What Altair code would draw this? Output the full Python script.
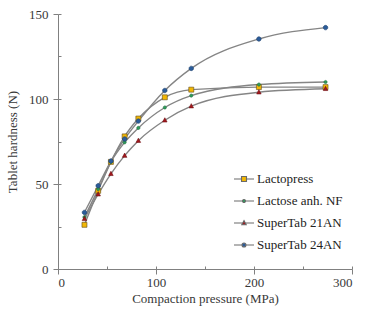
import altair as alt
import pandas as pd

pressure = [27, 41, 54, 68, 82, 109, 136, 205, 273]
lactopress = [26, 46, 63, 78, 88.5, 101, 105.5, 107, 107]
lactose_anh = [30.5, 47, 63, 74.5, 83, 95, 102, 108.5, 110]
supertab_21an = [29.5, 44, 56, 66.7, 75.5, 87.5, 95.8, 104, 106]
supertab_24an = [33.3, 49, 63.5, 76.5, 87, 105, 118, 135.3, 142]

series_names = ["Lactopress", "Lactose anh. NF", "SuperTab 21AN", "SuperTab 24AN"]
series_values = [lactopress, lactose_anh, supertab_21an, supertab_24an]
fill_colors = ["#F2B705", "#2E9B5A", "#A3171C", "#2B5C9A"]
stroke_colors = ["#5e4a1c", "#1f6e3e", "#6e0f12", "#1d3f6b"]
legend_line_colors = ["#6a6a6a", "#6a6a6a", "#6a6a6a", "#6a6a6a"]


def circle_path(r):
    return f"M{r},0A{r},{r},0,1,1,-{r},0A{r},{r},0,1,1,{r},0Z"


# marker outlines (unit = sqrt(size)/2 px)
marker_paths = [
    "M-0.5,-0.5H0.5V0.5H-0.5Z",
    circle_path(0.32),
    "M0,-0.5L0.45,0.35H-0.45Z",
    circle_path(0.45),
]


def seg(a):
    return f"M-1,0H-{a}M{a},0H1"


legend_paths = [
    seg(0.25) + "M-0.25,-0.25H0.25V0.25H-0.25Z",
    seg(0.15) + circle_path(0.15),
    seg(0.15) + "M0,-0.24L0.22,0.18H-0.22Z",
    seg(0.2) + circle_path(0.2),
]

rows = []
for name, vals in zip(series_names, series_values):
    for p, v in zip(pressure, vals):
        rows.append({"series": name, "pressure": p, "hardness": v})
df = pd.DataFrame(rows)

FONT = "Liberation Serif"
FS = 13
AX = "#808080"
TXT = "#383838"

xscale = alt.Scale(domain=[0, 300], nice=False)
yscale = alt.Scale(domain=[0, 150], nice=False)

base = alt.Chart(df)

lines = base.mark_line(color="#858585", strokeWidth=1.4, interpolate="monotone").encode(
    x=alt.X("pressure:Q", scale=xscale,
            axis=alt.Axis(values=[0, 100, 200, 300], title="Compaction pressure (MPa)",
                          tickSize=5, labelPadding=2, titlePadding=3, orient="bottom",
                          labelFont=FONT, titleFont=FONT, labelFontSize=FS, titleFontSize=FS,
                          labelColor=TXT, titleColor=TXT, titleFontWeight="normal")),
    y=alt.Y("hardness:Q", scale=yscale,
            axis=alt.Axis(values=[0, 50, 100, 150], title="Tablet hardness (N)",
                          tickSize=5, labelPadding=5, titlePadding=9, orient="left",
                          labelFont=FONT, titleFont=FONT, labelFontSize=FS, titleFontSize=FS,
                          labelColor=TXT, titleColor=TXT, titleFontWeight="normal")),
    detail="series:N",
)

points = base.mark_point(filled=True, opacity=1, strokeWidth=0.6, size=100).encode(
    x=alt.X("pressure:Q", scale=xscale, axis=None),
    y=alt.Y("hardness:Q", scale=yscale, axis=None),
    fill=alt.Fill("series:N", scale=alt.Scale(domain=series_names, range=fill_colors), legend=None),
    stroke=alt.Stroke("series:N", scale=alt.Scale(domain=series_names, range=stroke_colors), legend=None),
    shape=alt.Shape("series:N", scale=alt.Scale(domain=series_names, range=marker_paths), legend=None),
)

leg = alt.Legend(title=None, orient="none", legendX=175, legendY=154,
                 labelFont=FONT, labelFontSize=FS, labelColor="#222",
                 symbolSize=400, symbolStrokeWidth=1.1,
                 symbolOpacity=1, rowPadding=4, labelOffset=2)

legend_layer = base.mark_point(filled=True, opacity=0, size=400, strokeWidth=1.1).encode(
    x=alt.X("pressure:Q", scale=xscale, axis=None),
    y=alt.Y("hardness:Q", scale=yscale, axis=None),
    fill=alt.Fill("series:N", scale=alt.Scale(domain=series_names, range=fill_colors), legend=leg),
    stroke=alt.Stroke("series:N", scale=alt.Scale(domain=series_names, range=legend_line_colors), legend=leg),
    shape=alt.Shape("series:N", scale=alt.Scale(domain=series_names, range=legend_paths), legend=leg),
)

ticks_layer = base.mark_point(opacity=0).encode(
    x=alt.X("pressure:Q", scale=xscale,
            axis=alt.Axis(values=list(range(0, 301, 50)), orient="bottom", tickSize=3, offset=-3,
                          domain=False, labels=False, title=None)),
    y=alt.Y("hardness:Q", scale=yscale,
            axis=alt.Axis(values=list(range(0, 151, 25)), orient="left", tickSize=3, offset=-3,
                          domain=False, labels=False, title=None)),
)

chart = alt.layer(lines, points, legend_layer, ticks_layer).resolve_scale(
    shape="independent", fill="independent", stroke="independent"
).resolve_axis(
    x="independent", y="independent"
).properties(
    width=294, height=255,
    autosize=alt.AutoSizeParams(type="none"),
    padding={"left": 58, "top": 14, "right": 26, "bottom": 49},
).configure(font=FONT).configure_view(stroke=None).configure_axis(
    grid=False, domainColor=AX, tickColor=AX, domainWidth=1, tickWidth=1,
    labelFont=FONT, titleFont=FONT,
)

chart.save("out.html", embed_options={"renderer": "svg", "actions": False})
